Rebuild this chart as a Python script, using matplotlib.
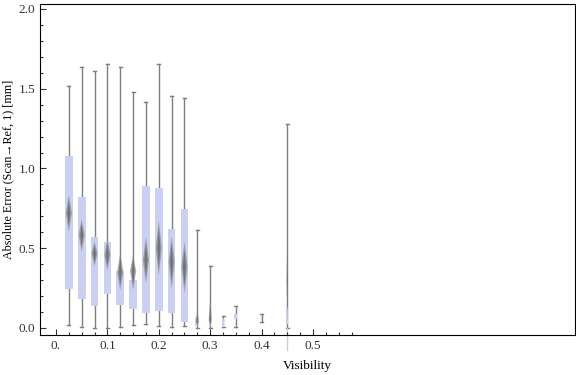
import matplotlib
matplotlib.use('Agg')
import matplotlib.pyplot as plt
from matplotlib.patches import Polygon, Rectangle

plt.rcParams['font.family'] = ['Liberation Serif', 'DejaVu Serif']

# visibility bins and box-whisker statistics (mm)
vis = [0.025, 0.05, 0.075, 0.1, 0.125, 0.15, 0.175, 0.2, 0.225, 0.25,
       0.275, 0.3, 0.325, 0.35, 0.4, 0.45]
w_lo = [0.017, 0.004, 0.0, 0.0, 0.004, 0.017, 0.025, 0.013, 0.004, 0.015,
        0.0, 0.0, 0.008, 0.008, 0.04, 0.0]
q1 = [0.243, 0.184, 0.14, 0.215, 0.146, 0.117, 0.096, 0.109, 0.096, 0.04,
      0.015, 0.01, 0.008, 0.056, 0.05, 0.025]
med = [0.72, 0.583, 0.468, 0.458, 0.353, 0.357, 0.426, 0.5, 0.416, 0.385,
       0.04, 0.05, 0.03, 0.07, 0.06, 0.3]
q3 = [1.078, 0.823, 0.571, 0.539, 0.36, 0.303, 0.89, 0.88, 0.62, 0.746,
      0.069, 0.03, 0.055, 0.088, 0.07, 0.127]
w_hi = [1.52, 1.634, 1.613, 1.653, 1.634, 1.477, 1.415, 1.653, 1.455, 1.44,
        0.612, 0.387, 0.073, 0.136, 0.086, 1.277]
# spread of the median marker
d_lo = [0.604, 0.478, 0.389, 0.36, 0.234, 0.238, 0.28, 0.332, 0.243, 0.217,
        0.01, 0.006, 0.02, 0.06, 0.05, 0.03]
d_hi = [0.834, 0.681, 0.541, 0.562, 0.472, 0.458, 0.572, 0.673, 0.577, 0.541,
        0.12, 0.19, 0.04, 0.08, 0.07, 0.6]

box_w = [0.015] * 10 + [0.008, 0.004, 0.004, 0.006, 0.002, 0.004]
dia_w = [0.006] * 10 + [0.003, 0.003, 0.0, 0.0, 0.0, 0.0015]

fig = plt.figure(figsize=(5.76, 3.75), dpi=100)
ax = fig.add_axes([40/576, 1 - 335/375, 535/576, 331/375])

gray = '#7f7f7f'
for i, x in enumerate(vis):
    # whisker line and caps
    ax.plot([x, x], [w_lo[i], w_hi[i]], color=gray, lw=1.0, zorder=1)
    ax.plot([x - 0.003, x + 0.003], [w_hi[i], w_hi[i]], color=gray, lw=1.0, zorder=1)
    ax.plot([x - 0.003, x + 0.003], [w_lo[i], w_lo[i]], color=gray, lw=1.0, zorder=1)
    # box
    ax.add_patch(Rectangle((x - box_w[i] / 2, q1[i]), box_w[i], q3[i] - q1[i],
                           facecolor='#c9d0f4', edgecolor='none', zorder=2))
    # median marker
    if dia_w[i] > 0:
        ax.add_patch(Polygon([(x - dia_w[i], med[i]), (x, d_hi[i]),
                              (x + dia_w[i], med[i]), (x, d_lo[i])],
                             closed=True, facecolor='#8a8a8a', edgecolor='none',
                             alpha=0.7, zorder=3))
        ax.add_patch(Polygon([(x - dia_w[i] / 2, med[i]), (x, d_hi[i] - (d_hi[i] - med[i]) * 0.3),
                              (x + dia_w[i] / 2, med[i]), (x, d_lo[i] + (med[i] - d_lo[i]) * 0.3)],
                             closed=True, facecolor='#6a6a6a', edgecolor='none',
                             alpha=0.8, zorder=4))

# the last whisker runs past the frame
ax.plot([0.45, 0.45], [0.0, -0.14], color='#d0d0d0', lw=1.0, clip_on=False, zorder=1)

ax.set_xlim(-0.0311, 1.0097)
ax.set_ylim(-0.0439, 2.031)

ax.set_xticks([0, 0.1, 0.2, 0.3, 0.4, 0.5])
ax.set_xticklabels(['0.', '0.1', '0.2', '0.3', '0.4', '0.5'])
ax.set_xticks([0.025 * k for k in range(1, 24) if k % 4 != 0], minor=True)
ax.set_yticks([0, 0.5, 1.0, 1.5, 2.0])
ax.set_yticklabels(['0.0', '0.5', '1.0', '1.5', '2.0'])
ax.set_yticks([0.1 * k for k in range(1, 20) if k % 5 != 0], minor=True)

ax.tick_params(which='both', direction='in', top=False, right=False,
               labelsize=9.5, colors='#333333', labelcolor='#333333')
ax.tick_params(which='major', length=4, width=0.8)
ax.tick_params(which='minor', length=2.5, width=0.8)

ax.set_xlabel('Visibility', fontsize=9.5, labelpad=6)
ax.set_ylabel('Absolute Error (Scan\u2192Ref, 1) [mm]', fontsize=8.7, labelpad=3)

fig.savefig('out.png', dpi=100)
